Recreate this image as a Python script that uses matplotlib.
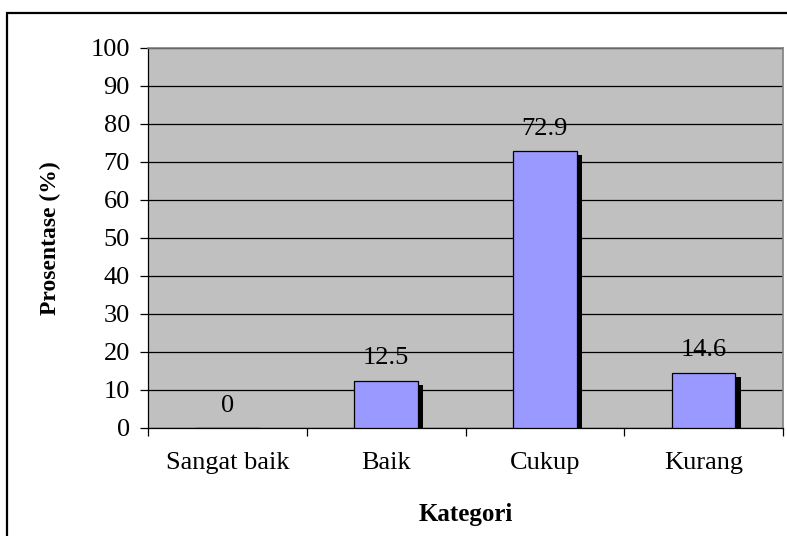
import matplotlib
matplotlib.use("Agg")
import matplotlib.pyplot as plt
import matplotlib.patheffects as pe
from matplotlib.patches import Rectangle

# Data kategori dan prosentase
kategori = ['Sangat baik', 'Baik', 'Cukup', 'Kurang']
prosentase = [0, 12.5, 72.9, 14.6]

plt.rcParams['font.family'] = ['Liberation Serif', 'DejaVu Serif']

fig = plt.figure(figsize=(7.87, 5.36), dpi=100)
ax = fig.add_axes([148 / 787, 1 - 428 / 536, 635 / 787, 380 / 536])

# Bingkai luar grafik
fig.patches.append(Rectangle((7 / 787, -0.1), 1.2, 1 - 13 / 536 + 0.1,
                             transform=fig.transFigure, fill=False,
                             edgecolor='black', linewidth=1.6))

ax.set_facecolor('#C0C0C0')
x = list(range(len(kategori)))
bars = ax.bar(x, prosentase, width=0.4, color='#9999FF', edgecolor='black',
              linewidth=0.9, zorder=3)
for b in bars:
    b.set_path_effects([pe.SimplePatchShadow(offset=(3.8, -2.9), shadow_rgbFace='black', alpha=1.0),
                        pe.Normal()])

for xi, v in zip(x, prosentase):
    ax.annotate(f"{v:g}", (xi, v), xytext=(0, 8), textcoords='offset points',
                ha='center', va='bottom', fontsize=19, zorder=4)

ax.set_xlim(-0.5, len(kategori) - 0.5)
ax.set_ylim(0, 100)
ax.set_yticks(range(0, 101, 10))
ax.yaxis.grid(True, color='black', linewidth=0.9)
ax.set_axisbelow(True)

ax.set_xticks(x)
ax.set_xticklabels(kategori)
ax.set_xticks([i - 0.5 for i in range(len(kategori) + 1)], minor=True)
ax.tick_params(axis='x', which='major', length=0, pad=17, labelsize=19)
ax.tick_params(axis='x', which='minor', length=6, width=0.9, direction='out')
ax.tick_params(axis='y', length=6, width=0.9, direction='out', pad=7, labelsize=19)

for s in ['top', 'right']:
    ax.spines[s].set_color('#808080')
    ax.spines[s].set_linewidth(1.2)
for s in ['left', 'bottom']:
    ax.spines[s].set_color('black')
    ax.spines[s].set_linewidth(0.9)

ax.set_xlabel('Kategori', fontsize=18, fontweight='bold', labelpad=21)
ax.set_ylabel('Prosentase (%)', fontsize=17, fontweight='bold', labelpad=21)

fig.savefig('out.png', dpi=100)
